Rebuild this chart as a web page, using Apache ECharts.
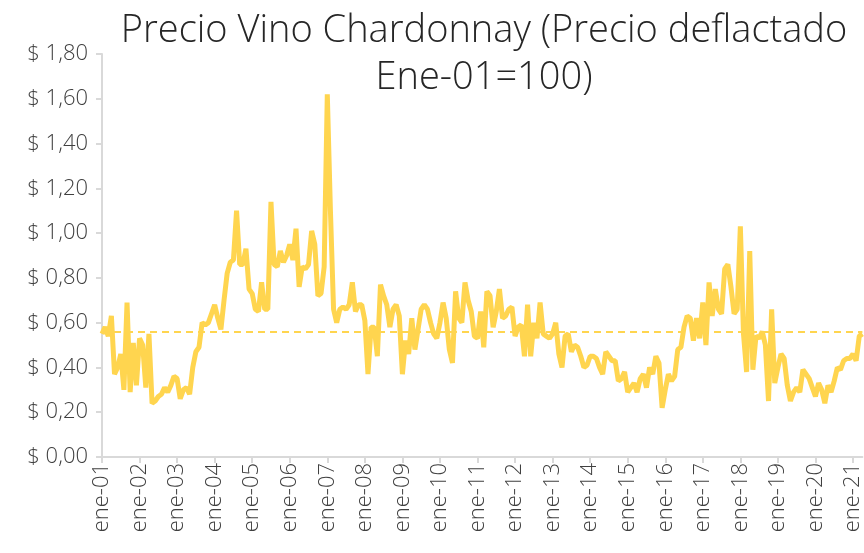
<!DOCTYPE html>
<html>
<head>
<meta charset="utf-8">
<script src="https://cdn.jsdelivr.net/npm/echarts@6/dist/echarts.min.js"></script>
<style>
  html, body { margin: 0; padding: 0; background: #fff; }
  #chart { width: 864px; height: 553px; }
</style>
</head>
<body>
<div id="chart"></div>
<script>
// meses en español, serie mensual desde ene-01
const meses = ['ene', 'feb', 'mar', 'abr', 'may', 'jun', 'jul', 'ago', 'sep', 'oct', 'nov', 'dic'];

// precio deflactado por año (12 valores cada uno)
const p2001 = [0.55, 0.58, 0.54, 0.63, 0.37, 0.40, 0.46, 0.30, 0.69, 0.29, 0.51, 0.32];
const p2002 = [0.53, 0.50, 0.31, 0.55, 0.24, 0.25, 0.27, 0.28, 0.31, 0.29, 0.32, 0.36];
const p2003 = [0.35, 0.26, 0.30, 0.31, 0.28, 0.40, 0.47, 0.49, 0.60, 0.59, 0.60, 0.64];
const p2004 = [0.68, 0.62, 0.57, 0.70, 0.82, 0.87, 0.88, 1.10, 0.86, 0.86, 0.93, 0.75];
const p2005 = [0.73, 0.66, 0.65, 0.78, 0.66, 0.66, 1.14, 0.86, 0.85, 0.92, 0.87, 0.90];
const p2006 = [0.95, 0.88, 1.02, 0.76, 0.85, 0.84, 0.86, 1.01, 0.95, 0.72, 0.73, 0.85];
const p2007 = [1.62, 1.10, 0.66, 0.60, 0.66, 0.67, 0.66, 0.68, 0.78, 0.65, 0.68, 0.68];
const p2008 = [0.61, 0.37, 0.58, 0.58, 0.45, 0.77, 0.72, 0.68, 0.58, 0.66, 0.68, 0.63];
const p2009 = [0.37, 0.52, 0.46, 0.62, 0.48, 0.57, 0.66, 0.68, 0.66, 0.60, 0.55, 0.53];
const p2010 = [0.60, 0.69, 0.62, 0.48, 0.42, 0.74, 0.62, 0.60, 0.78, 0.70, 0.65, 0.54];
const p2011 = [0.53, 0.65, 0.49, 0.74, 0.72, 0.58, 0.65, 0.75, 0.62, 0.63, 0.66, 0.67];
const p2012 = [0.54, 0.58, 0.59, 0.45, 0.68, 0.45, 0.60, 0.53, 0.69, 0.55, 0.54, 0.53];
const p2013 = [0.55, 0.60, 0.46, 0.40, 0.54, 0.55, 0.47, 0.50, 0.49, 0.45, 0.40, 0.41];
const p2014 = [0.45, 0.45, 0.44, 0.40, 0.37, 0.47, 0.45, 0.43, 0.43, 0.34, 0.35, 0.38];
const p2015 = [0.29, 0.31, 0.33, 0.29, 0.35, 0.37, 0.31, 0.40, 0.37, 0.45, 0.42, 0.22];
const p2016 = [0.30, 0.37, 0.34, 0.36, 0.48, 0.49, 0.58, 0.63, 0.62, 0.52, 0.62, 0.53];
const p2017 = [0.69, 0.50, 0.78, 0.63, 0.75, 0.66, 0.64, 0.84, 0.86, 0.76, 0.64, 0.66];
const p2018 = [1.03, 0.55, 0.38, 0.92, 0.39, 0.54, 0.53, 0.56, 0.50, 0.25, 0.66, 0.33];
const p2019 = [0.40, 0.46, 0.44, 0.32, 0.25, 0.29, 0.31, 0.29, 0.39, 0.37, 0.35, 0.31];
const p2020 = [0.27, 0.33, 0.30, 0.24, 0.32, 0.29, 0.34, 0.40, 0.39, 0.43, 0.44, 0.44];
const p2021 = [0.46, 0.43, 0.54, 0.55];

const precio = [].concat(p2001, p2002, p2003, p2004, p2005, p2006, p2007, p2008, p2009, p2010,
  p2011, p2012, p2013, p2014, p2015, p2016, p2017, p2018, p2019, p2020, p2021);

// nivel de referencia (línea punteada)
const referencia = 0.56;

const fechas = precio.map((v, i) => {
  const anio = 1 + Math.floor(i / 12);
  return meses[i % 12] + '-' + String(anio).padStart(2, '0');
});

const chart = echarts.init(document.getElementById('chart'));

const fuente = '"Open Sans", Lato, sans-serif';
const gris = '#d9d9d9';

const option = {
  animation: false,
  title: {
    text: 'Precio Vino Chardonnay (Precio deflactado\nEne-01=100)',
    left: 479,
    top: 3,
    textAlign: 'center',
    textStyle: {
      fontFamily: fuente,
      fontWeight: 300,
      fontSize: 38,
      lineHeight: 47,
      color: '#262626',
    },
  },
  grid: {
    left: 102,
    right: 1,
    top: 54,
    bottom: 96,
  },
  xAxis: {
    type: 'category',
    data: fechas,
    boundaryGap: false,
    axisLine: { lineStyle: { color: gris, width: 2 } },
    axisTick: { interval: 11, length: 6, lineStyle: { color: gris, width: 2 } },
    axisLabel: {
      interval: 11,
      rotate: 90,
      fontFamily: fuente,
      fontWeight: 300,
      fontSize: 22,
      color: '#404040',
      margin: 6,
    },
    splitLine: { show: false },
  },
  yAxis: {
    type: 'value',
    min: 0,
    max: 1.8,
    interval: 0.2,
    axisLine: { show: true, lineStyle: { color: gris, width: 2 } },
    axisTick: { show: true, length: 6, lineStyle: { color: gris, width: 2 } },
    axisLabel: {
      fontFamily: fuente,
      fontWeight: 300,
      fontSize: 22,
      color: '#404040',
      margin: 14,
      formatter: (v) => '$ ' + v.toFixed(2).replace('.', ','),
    },
    splitLine: { show: false },
  },
  series: [
    {
      name: 'Precio',
      type: 'line',
      data: precio,
      symbol: 'none',
      lineStyle: { color: '#FFD54F', width: 5 },
      itemStyle: { color: '#FFD54F' },
      markLine: {
        silent: true,
        symbol: 'none',
        label: { show: false },
        lineStyle: { color: '#FFD54F', type: [7, 5], width: 2 },
        data: [{ yAxis: referencia }],
      },
    },
  ],
};

chart.setOption(option);
</script>
</body>
</html>
